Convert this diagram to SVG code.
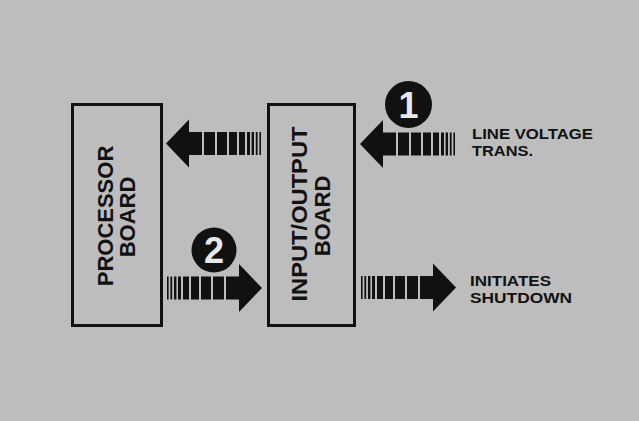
<svg xmlns="http://www.w3.org/2000/svg" xmlns:xlink="http://www.w3.org/1999/xlink" width="639" height="421" viewBox="0 0 639 421">
  <style>
    .bg { fill: #bdbdbd; }
    .box { fill: #bdbdbd; stroke: #111; stroke-width: 3; }
    .lbl { font-family: "Liberation Sans", Arial, sans-serif; font-weight: bold; fill: #111; }
    .big { font-size: 22px; }
    .side { font-size: 14px; }
    .num { font-family: "Liberation Sans", Arial, sans-serif; font-weight: bold; font-size: 36px; fill: #e8e8e8; }
    .ink { fill: #111; }
  </style>
  <defs>
    <!-- right-pointing striped arrow: tail at x=0, tip at x=95 -->
    <g id="arrow">
      <polygon class="ink" points="72,-24 95,0 72,24"/>
      <rect class="ink" x="0" y="-11.5" width="1.6" height="23"/>
      <rect class="ink" x="3.4" y="-11.5" width="1.8" height="23"/>
      <rect class="ink" x="7" y="-11.5" width="2.4" height="23"/>
      <rect class="ink" x="11" y="-11.5" width="3" height="23"/>
      <rect class="ink" x="16" y="-11.5" width="6" height="23"/>
      <rect class="ink" x="24" y="-11.5" width="8" height="23"/>
      <rect class="ink" x="34" y="-11.5" width="10" height="23"/>
      <rect class="ink" x="46" y="-11.5" width="11" height="23"/>
      <rect class="ink" x="59" y="-11.5" width="14" height="23"/>
    </g>
  </defs>

  <rect class="bg" x="0" y="0" width="639" height="421"/>

  <g id="processor-board">
    <rect class="box" x="72.5" y="104.5" width="89" height="221"/>
    <text class="lbl big" text-anchor="middle" transform="translate(113,216) rotate(-90)">PROCESSOR</text>
    <text class="lbl big" text-anchor="middle" transform="translate(135,217) rotate(-90)">BOARD</text>
  </g>

  <g id="io-board">
    <rect class="box" x="268.5" y="104.5" width="86" height="221"/>
    <text class="lbl big" text-anchor="middle" textLength="175" lengthAdjust="spacingAndGlyphs" transform="translate(307,214) rotate(-90)">INPUT/OUTPUT</text>
    <text class="lbl big" text-anchor="middle" transform="translate(330,216) rotate(-90)">BOARD</text>
  </g>

  <g id="connectors">
    <use xlink:href="#arrow" href="#arrow" transform="translate(261,143.5) scale(-1,1)"/>
    <use xlink:href="#arrow" href="#arrow" transform="translate(455,144) scale(-1,1)"/>
    <use xlink:href="#arrow" href="#arrow" transform="translate(167,288)"/>
    <use xlink:href="#arrow" href="#arrow" transform="translate(361,287.5)"/>
  </g>

  <g id="step-1">
    <circle class="ink" cx="408.5" cy="104.5" r="23.5"/>
    <text class="num" x="408.5" y="117.5" text-anchor="middle">1</text>
  </g>

  <g id="step-2">
    <circle class="ink" cx="214" cy="250" r="22.5"/>
    <text class="num" x="214" y="263" text-anchor="middle">2</text>
  </g>

  <g id="line-voltage">
    <text class="lbl side" x="472" y="139" textLength="121" lengthAdjust="spacingAndGlyphs">LINE VOLTAGE</text>
    <text class="lbl side" x="472" y="156" textLength="61" lengthAdjust="spacingAndGlyphs">TRANS.</text>
  </g>

  <g id="initiates-shutdown">
    <text class="lbl side" x="470" y="286" textLength="81" lengthAdjust="spacingAndGlyphs">INITIATES</text>
    <text class="lbl side" x="470" y="303" textLength="102" lengthAdjust="spacingAndGlyphs">SHUTDOWN</text>
  </g>
</svg>
